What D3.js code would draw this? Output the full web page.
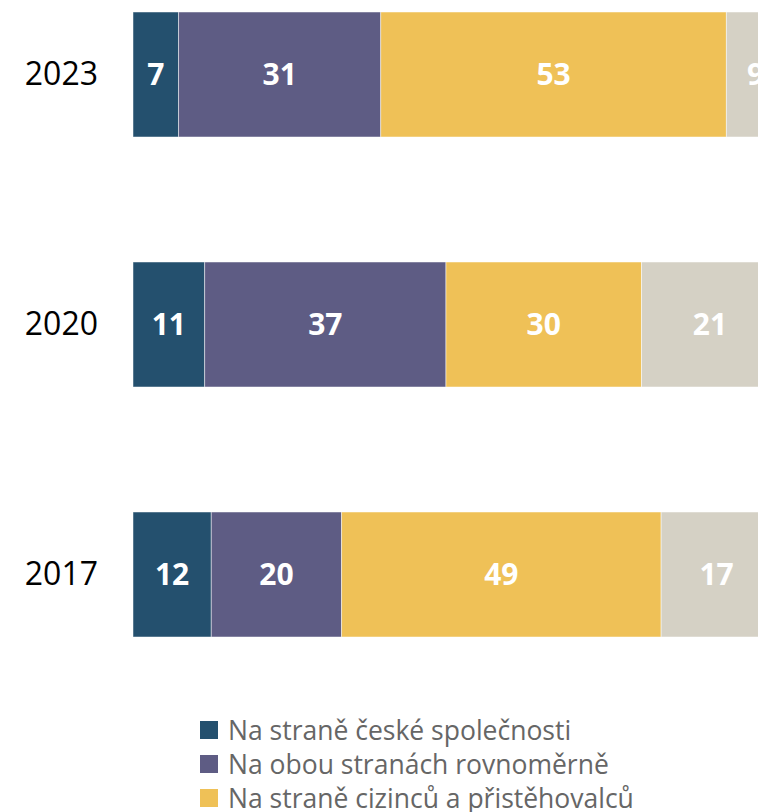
<!DOCTYPE html>
<html>
<head>
<meta charset="utf-8">
<script src="https://cdn.jsdelivr.net/npm/d3@7"></script>
<style>
  body { margin: 0; background: #fff; overflow: hidden; }
  svg { display: block; }
</style>
</head>
<body>
<svg id="chart"></svg>
<script>
// years top to bottom
const years = ['2023', '2020', '2017'];
const categories = [
  'Na straně české společnosti',
  'Na obou stranách rovnoměrně',
  'Na straně cizinců a přistěhovalců',
  'Nevím'
];
const ceskeSpolecnosti = [7, 11, 12];
const obouStranach = [31, 37, 20];
const cizincu = [53, 30, 49];
const nevim = [9, 21, 17];
const colors = ['#24506e', '#5e5c84', '#efc157', '#d5d1c5'];

const width = 758, height = 812;

const svg = d3.select('#chart')
  .attr('width', width)
  .attr('height', height);

const rows = years.map((y, i) => ({
  year: y,
  [categories[0]]: ceskeSpolecnosti[i],
  [categories[1]]: obouStranach[i],
  [categories[2]]: cizincu[i],
  [categories[3]]: nevim[i]
}));

const series = d3.stack().keys(categories)(rows);

// bar area runs past the right edge of the window
const x = d3.scaleLinear().domain([0, 100]).range([133, 785]);
const y = d3.scaleBand().domain(years).range([-50.5, 699.5]).paddingInner(0.5).paddingOuter(0.25);

const fontSans = '"Open Sans", "Noto Sans", sans-serif';

const groups = svg.selectAll('g.series')
  .data(series)
  .join('g')
  .attr('class', 'series')
  .attr('fill', (d, i) => colors[i]);

groups.selectAll('rect')
  .data(d => d)
  .join('rect')
  .attr('x', d => x(d[0]))
  .attr('y', d => y(d.data.year))
  .attr('width', d => x(d[1]) - x(d[0]))
  .attr('height', y.bandwidth())
  .attr('stroke', '#fff')
  .attr('stroke-width', 0.8)
  .attr('stroke-opacity', 0.6);

groups.selectAll('text')
  .data(d => d)
  .join('text')
  .attr('x', d => (x(d[0]) + x(d[1])) / 2)
  .attr('y', d => y(d.data.year) + y.bandwidth() / 2)
  .attr('dy', '0.36em')
  .attr('text-anchor', 'middle')
  .attr('fill', '#fff')
  .attr('font-family', fontSans)
  .attr('font-weight', 'bold')
  .attr('font-size', 30)
  .text(d => d[1] - d[0]);

// year labels
const yAxis = svg.append('g')
  .attr('transform', 'translate(98,0)')
  .call(d3.axisLeft(y).tickSize(0).tickPadding(0));
yAxis.select('.domain').remove();
yAxis.selectAll('text')
  .attr('font-family', fontSans)
  .attr('font-size', 32)
  .attr('fill', '#000');

// legend
const legend = svg.append('g')
  .attr('transform', 'translate(200,721)');

const item = legend.selectAll('g')
  .data(categories)
  .join('g')
  .attr('transform', (d, i) => `translate(0,${i * 34})`);

item.append('rect')
  .attr('width', 18)
  .attr('height', 18)
  .attr('fill', (d, i) => colors[i]);

item.append('text')
  .attr('x', 28)
  .attr('y', 9)
  .attr('dy', '0.36em')
  .attr('font-family', fontSans)
  .attr('font-size', 26.5)
  .attr('fill', '#666')
  .text(d => d);
</script>
</body>
</html>
